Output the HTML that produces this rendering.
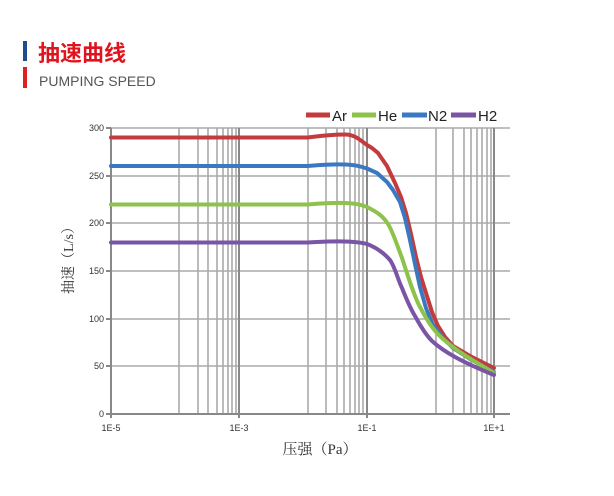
<!DOCTYPE html>
<html><head><meta charset="utf-8"><style>
body{margin:0;background:#fff;width:614px;height:496px;overflow:hidden}
svg{display:block}
</style></head><body>
<svg width="614" height="496" xmlns="http://www.w3.org/2000/svg">
<rect x="23" y="41" width="4" height="20" fill="#1f4e8c"/>
<rect x="23" y="67" width="4" height="21" fill="#e02020"/>
<text x="38" y="61" font-family="'Liberation Sans','Noto Sans CJK SC',sans-serif" font-size="22" font-weight="bold" fill="#e0141e">抽速曲线</text>
<text x="39" y="86" font-family="'Liberation Sans',sans-serif" font-size="14" fill="#555">PUMPING SPEED</text>
<g stroke="#aaa" stroke-width="1.6">
<line x1="111" y1="128" x2="510" y2="128"/><line x1="111" y1="176" x2="510" y2="176"/><line x1="111" y1="223" x2="510" y2="223"/><line x1="111" y1="271" x2="510" y2="271"/><line x1="111" y1="319" x2="510" y2="319"/><line x1="111" y1="366" x2="510" y2="366"/>
<path d="M179 128V414M198 128V414M208 128V414M217 128V414M223 128V414M228 128V414M232 128V414M236 128V414M308 128V414M326 128V414M337 128V414M344 128V414M350 128V414M355 128V414M359 128V414M363 128V414M436 128V414M453 128V414M464 128V414M471 128V414M477 128V414M482 128V414M487 128V414M491 128V414"/>
</g>
<g stroke="#888" stroke-width="2"><path d="M239 128V418M367 128V418M494 128V418M111 128V418M106 414H510"/>
<path d="M106 128H111M106 176H111M106 223H111M106 271H111M106 319H111M106 366H111"/></g>
<g font-family="'Liberation Sans',sans-serif" font-size="9" fill="#333" text-anchor="end">
<text x="104" y="131">300</text><text x="104" y="179">250</text><text x="104" y="226">200</text><text x="104" y="274">150</text><text x="104" y="322">100</text><text x="104" y="369">50</text><text x="104" y="417">0</text></g>
<g font-family="'Liberation Sans',sans-serif" font-size="9" fill="#333" text-anchor="middle">
<text x="111" y="431">1E-5</text><text x="239" y="431">1E-3</text><text x="367" y="431">1E-1</text><text x="494" y="431">1E+1</text></g>
<text x="320" y="454" text-anchor="middle" font-family="'Liberation Serif','Noto Serif CJK SC',serif" font-size="15" fill="#333">压强（Pa）</text>
<text transform="translate(73,257) rotate(-90)" text-anchor="middle" font-family="'Liberation Serif','Noto Serif CJK SC',serif" font-size="14" fill="#333">抽速（L/s）</text>
<g fill="none" stroke-width="4" stroke-linecap="round" stroke-linejoin="round">
<path stroke="#c33b3c" d="M111 137.5L308 137.5C320 136 330 134.5 345 134.5C355 134.5 360 140 367 145L372 148L378 153L387 166L395 183L401 197L406 213L411 234L416 257L421 277L426 293L432 312L438 326L445 337L453 346L470 356L494 368"/>
<path stroke="#3b78c2" d="M111 166L308 166C320 165 330 164 345 164.5C358 165 362 167 367 168.5L377 173L387 182L393 190L400 202L405 218L410 240L415 264L420 287L426 308L433 325L443 338L453 348L470 359L494 372"/>
<path stroke="#8dc24b" d="M111 204.5L308 204.5C320 203.5 330 202.5 345 203C357 203.5 362 205 367 207C377 212 383 216 388 224C393 232 397 245 402 258C408 276 414 296 420 307C428 322 434 331 442 338C455 350 472 360 494 373"/>
<path stroke="#7a55a5" d="M111 242.5L308 242.5C320 242 330 241 345 241.5C357 242 362 242.5 367 244C375 247 383 252 390 260C395 267 398 280 402 288C406 298 410 308 415 316C421 327 426 335 432 341C444 352 462 362 494 375"/>
</g>
<g stroke-width="5"><line x1="306" y1="115" x2="330" y2="115" stroke="#c33b3c"/><line x1="352" y1="115" x2="376" y2="115" stroke="#8dc24b"/><line x1="402" y1="115" x2="427" y2="115" stroke="#3b78c2"/><line x1="451" y1="115" x2="476" y2="115" stroke="#7a55a5"/></g>
<g font-family="'Liberation Sans',sans-serif" font-size="15" fill="#222">
<text x="332" y="121">Ar</text><text x="378" y="121">He</text><text x="428" y="121">N2</text><text x="478" y="121">H2</text></g>
</svg>
</body></html>
